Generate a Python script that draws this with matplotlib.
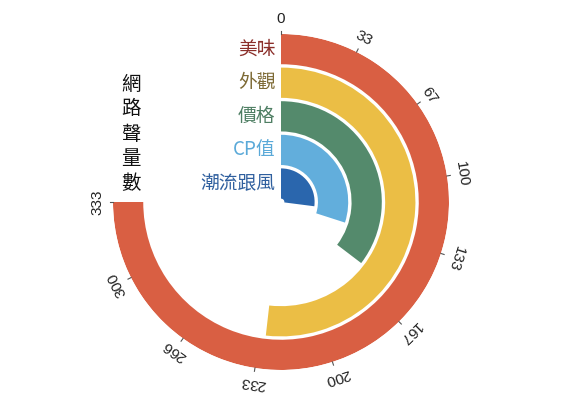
import numpy as np
import matplotlib
matplotlib.use("Agg")
import matplotlib.pyplot as plt

plt.rcParams['font.family'] = ['Noto Sans CJK TC', 'DejaVu Sans']

# categories, inner -> outer
cats = ['潮流跟風', 'CP值', '價格', '外觀', '美味']
vals = [120, 133, 157, 230, 333]
bar_colors = ['#2a66ad', '#62aedc', '#548a6c', '#ebbe45', '#d95f43']
lab_colors = ['#2f5f9e', '#5aa9d8', '#4e7e63', '#7d6a35', '#8b2f2a']
tick_vals = [0, 33, 67, 100, 133, 167, 200, 233, 266, 300, 333]
tick_labels = ['0', '33', '67', '100', '133', '167', '200', '233', '266', '300', '333']
title = '網路聲量數'

vmax = 333 * 360 / 270   # 333 ends at 3/4 turn

def ang(v):
    return v / vmax * 2 * np.pi

W, H = 570, 400
cx, cy, R = 281, 202, 168
fig = plt.figure(figsize=(W / 100, H / 100), dpi=100)
ax = fig.add_axes([(cx - R) / W, (H - cy - R) / H, 2 * R / W, 2 * R / H], projection='polar')
ax.set_theta_zero_location('N')
ax.set_theta_direction(-1)
ax.set_ylim(-0.55, 4.45)

for i, v in enumerate(vals):
    ax.bar(0, 0.9, width=ang(v), bottom=i - 0.45, align='edge',
           color=bar_colors[i], edgecolor='none')
    ax.annotate(cats[i], xy=(0, i), xytext=(-4, 0), textcoords='offset points',
                ha='right', va='center', fontsize=13.5, color=lab_colors[i])

for tv, tl in zip(tick_vals, tick_labels):
    t = ang(tv)
    ax.plot([t, t], [4.45, 4.55], color='#555555', lw=0.8, clip_on=False)
    ax.text(t, 4.9, tl, rotation=-np.degrees(t), rotation_mode='anchor',
            ha='center', va='center', fontsize=11, color='#222222',
            family='Liberation Sans', clip_on=False)

ax.grid(False)
ax.set_xticks([])
ax.set_yticks([])
ax.spines['polar'].set_visible(False)
ax.patch.set_alpha(0)

fig.text(131 / W, 1 - 134 / H, '\n'.join(title), ha='center', va='center',
         fontsize=14, linespacing=1.25, color='#111111')

fig.savefig('out.png', dpi=100)
